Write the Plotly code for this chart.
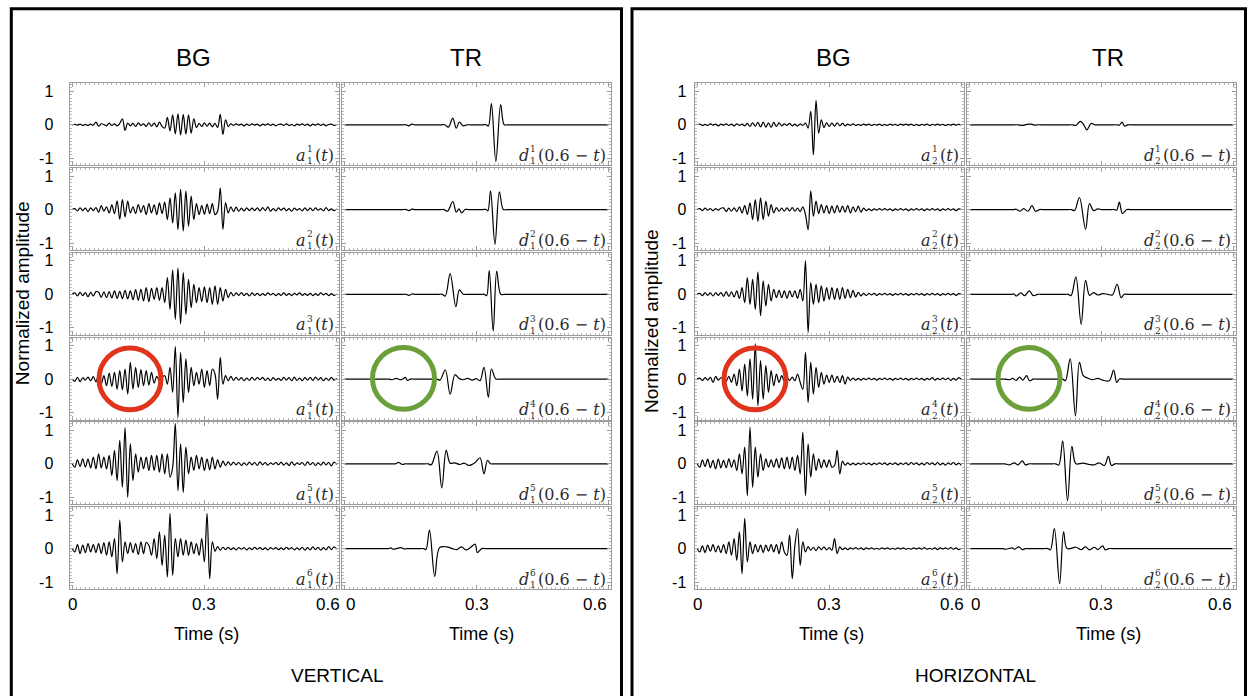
import plotly.graph_objects as go

W, H = 1249, 698
TIME_STEP = 0.006
TIME_TICKS = [0, 0.3, 0.6]
TIME_TICK_LABELS = ["0", "0.3", "0.6"]
AMP_TICKS = [-1, 0, 1]
AMP_TICK_LABELS = ["-1", "0", "1"]
COLUMN_TITLES = ["BG", "TR", "BG", "TR"]
PANEL_TITLES = ["VERTICAL", "HORIZONTAL"]

# ---- BG (background) records: amplitude samples every TIME_STEP seconds ----
a1_1 = [0, .01, -.01, .02, -.02, .01, -.02, .02, -.01, .08,
        -.04, .03, .01, -.03, .05, -.02, .03, -.03, .04, .18,
        -.17, .05, -.03, .04, -.05, .06, -.02, .03, -.05, .06,
        -.04, .05, -.06, .08, -.05, -.1, .22, -.18, .30, -.27,
        .33, -.30, .31, -.28, .30, -.25, .18, -.08, .04, -.05,
        .06, -.04, .05, -.06, .04, -.08, .31, -.29, .15, -.05,
        .03, -.02, .03, -.01, .02, -.03, .02, -.02, .03, -.01,
        .02, -.03, .02, -.01, .03, -.02, .02, -.03, .01, .02,
        -.02, .03, -.02, .01, -.03, .02, -.01, .03, -.02, .02,
        -.03, .02, -.01, .03, -.02, .02, -.03, .01, .02, -.02, .01]
a1_2 = [0, .03, -.04, .05, -.03, .04, -.06, .05, -.03, .06,
        -.08, .12, -.05, .08, -.1, .14, -.12, .26, -.29, .30,
        -.22, .25, -.1, .08, -.12, .15, -.08, .12, -.15, .18,
        -.1, .14, -.15, .2, -.12, .22, -.3, .35, -.4, .5,
        -.6, .6, -.64, .55, -.5, .4, -.3, .18, -.15, .12,
        -.14, .16, -.12, .18, -.15, -.05, .64, -.59, .2, -.1,
        .08, -.06, .07, -.05, .04, -.04, .05, -.03, .04, -.03,
        .05, -.04, .06, -.03, .08, -.05, .03, -.04, .05, -.02,
        .04, -.03, .03, -.05, .04, -.02, .03, -.04, .05, -.03,
        .04, -.03, .05, -.02, .03, -.04, .06, -.03, .02, -.03, .02]
a1_3 = [0, .04, -.05, .06, -.04, .05, -.07, .06, -.05, .08,
        .06, -.09, .07, -.1, .08, -.11, .1, -.12, .09, -.13,
        .12, -.14, .1, -.16, .14, -.18, .15, -.2, .2, -.22,
        .18, -.15, .2, -.18, .2, -.25, .5, -.45, .72, -.75,
        .79, -.89, .65, -.6, .45, -.4, .3, -.25, .2, -.22,
        .22, -.25, .2, -.3, .25, -.3, .2, -.2, .15, -.1,
        .06, -.05, .04, -.03, .05, -.04, .03, -.05, .04, -.03,
        .03, -.04, .02, -.03, .04, -.02, .03, -.04, .02, -.03,
        .04, -.03, .02, -.04, .03, -.02, .04, -.03, .02, -.03,
        .03, -.04, .02, -.03, .04, -.02, .03, -.04, .02, -.03, .01]
a1_4 = [0, -.06, .05, -.08, .04, -.03, .06, -.05, .07, -.08,
        .12, -.15, .1, -.2, .18, -.22, .2, -.3, .25, -.32,
        .3, -.45, .5, -.3, .35, -.25, .28, -.2, .25, -.18,
        .2, -.12, .08, -.06, .05, .1, -.15, .35, -.4, .97,
        -1.15, .8, -.7, .6, -.4, .35, -.2, .2, -.15, .3,
        -.25, .25, -.2, .3, .15, -.6, .65, -.15, .1, -.05,
        .08, -.04, .05, -.03, .04, -.05, .03, -.04, .05, -.03,
        .04, -.02, .05, -.04, .03, -.05, .04, -.03, .02, -.04,
        .05, -.03, .04, -.05, .06, -.04, .03, -.05, .04, -.03,
        .05, -.04, .06, -.03, .04, -.05, .03, -.04, .05, -.03, .02]
a1_5 = [0, -.1, .12, -.08, .15, -.1, .14, -.12, .2, -.15,
        .3, -.12, .2, -.15, .25, -.35, .4, -.5, .7, -.7,
        1.08, -1.0, .6, -.5, .3, -.25, .2, -.15, .2, -.2,
        .25, -.2, .25, -.25, .3, -.3, .3, -.4, -.1, 1.2,
        -.8, .6, -.85, .5, -.3, .2, -.2, .25, -.15, .2,
        -.2, .15, -.18, .2, -.15, .12, -.1, .08, -.05, .06,
        -.04, .05, -.03, .04, -.05, .03, -.04, .05, -.03, .04,
        -.05, .06, -.03, .04, -.04, .03, -.02, .04, -.03, .05,
        -.04, .03, -.05, .06, -.04, .03, -.02, .04, -.05, .06,
        -.03, .04, -.05, .03, -.04, .05, -.03, .04, -.06, .05, -.02]
a1_6 = [0, -.1, .12, -.15, .1, -.12, .15, -.1, .12, -.12,
        .15, -.15, .18, -.2, .2, -.25, .3, -.75, .85, -.4,
        .2, -.15, .18, -.12, .15, -.18, .2, -.15, .18, .1,
        -.2, .3, -.3, .5, -.5, .4, -.85, 1.05, -.8, .3,
        -.25, .3, -.2, .25, -.2, .2, -.15, .15, -.2, .3,
        -.4, 1.05, -.9, .2, -.08, .06, -.05, .04, -.03, .04,
        -.03, .02, -.04, .03, -.02, .03, -.04, .02, -.03, .04,
        -.02, .03, -.03, .02, -.04, .03, -.02, .03, -.03, .02,
        -.03, .04, -.02, .03, -.04, .02, -.03, .04, -.05, .03,
        -.04, .05, -.03, .04, -.05, .03, -.04, .06, -.03, .05, -.02]

a2_1 = [0, .02, -.02, .01, -.02, .03, -.01, .02, -.03, .02,
        -.01, .03, -.02, .02, -.03, .03, -.02, .02, -.03, .04,
        -.05, .06, -.04, .07, -.06, .08, -.07, .06, -.08, .07,
        -.05, .06, -.03, .03, -.02, .04, -.03, .02, -.04, .03,
        -.02, .05, -.1, .4, -.9, .73, -.25, .15, -.08, .06,
        -.05, .05, -.04, .06, -.03, .04, -.03, .02, -.02, .03,
        -.02, .01, -.02, .02, -.01, .02, -.02, .01, -.01, .02,
        -.02, .01, -.02, .02, -.01, .01, -.02, .02, -.01, .02,
        -.01, .02, -.02, .01, -.02, .01, -.01, .02, -.02, .01,
        -.01, .02, -.01, .01, -.02, .01, -.01, .02, -.01, .01, 0]
a2_2 = [0, .03, -.03, .04, -.02, .03, -.04, .03, -.02, .04,
        .05, -.06, .04, -.05, .05, -.06, .08, -.1, .12, -.15,
        .2, -.3, .3, -.35, .35, -.3, .25, -.2, .15, -.1,
        .06, -.05, .04, -.05, .05, -.04, .06, -.05, .04, -.06,
        .08, -.15, -.6, .56, -.2, .25, -.12, .15, -.1, .12,
        -.12, .1, -.1, .12, -.08, .1, -.08, .12, -.1, .08,
        -.06, .1, -.08, .04, -.03, .02, -.03, .02, -.02, .03,
        -.02, .03, -.02, .02, -.03, .02, -.02, .03, -.02, .02,
        -.03, .02, -.02, .03, -.02, .02, -.03, .02, -.02, .03,
        -.02, .02, -.03, .02, -.02, .03, -.02, .02, -.03, .02, 0]
a2_3 = [0, .03, -.04, .05, -.03, .04, -.05, .04, -.03, .05,
        -.06, .08, -.06, .07, -.08, .1, -.12, .2, -.25, .5,
        -.3, .45, -.45, .66, -.64, .4, -.35, .3, -.2, .15,
        -.1, .12, -.1, .1, -.12, .1, -.08, .1, -.12, .15,
        -.2, 1.0, -1.14, .35, -.3, .3, -.25, .25, -.2, .2,
        -.15, .2, -.15, .18, -.15, .2, -.12, .15, -.1, .12,
        -.08, .06, -.05, .03, -.04, .03, -.02, .03, -.03, .02,
        -.02, .03, -.02, .02, -.03, .02, -.02, .03, -.02, .02,
        -.03, .02, -.02, .03, -.02, .02, -.03, .02, -.02, .03,
        -.02, .02, -.03, .02, -.02, .03, -.02, .02, -.03, .02, 0]
a2_4 = [0, .03, -.04, .04, -.03, .05, -.1, .08, -.03, .04,
        .05, -.06, .08, -.1, .15, -.2, .3, -.35, .45, -.5,
        .6, -.6, 1.05, -.8, .55, -.6, .4, -.4, .25, -.2,
        .15, -.1, .1, -.06, .05, -.04, .06, -.05, .15, -.1,
        -.3, .8, -.7, .5, -.45, .35, -.25, .2, -.15, .12,
        -.1, .12, -.1, .08, -.1, .1, -.15, .06, -.04, .03,
        -.03, .02, -.03, .02, -.02, .03, -.02, .02, -.03, .02,
        -.02, .03, -.02, .02, -.03, .02, -.02, .03, -.02, .02,
        -.03, .02, -.02, .03, -.02, .02, -.03, .02, -.02, .04,
        -.03, .02, -.02, .03, -.02, .03, -.04, .02, -.03, .04, -.01]
a2_5 = [0, -.1, .12, -.08, .14, -.12, .1, -.15, .14, -.12,
        .1, -.12, .15, -.1, .12, -.2, .3, -.3, .5, -.95,
        1.1, -.7, .5, -.4, .3, -.2, .15, -.1, .12, -.1,
        .15, -.12, .18, -.15, .2, -.15, .2, -.2, .25, -.3,
        .95, -.95, .6, -.4, .3, -.2, .15, -.12, .12, -.1,
        .12, -.1, -.05, .4, -.3, .08, -.04, .03, -.03, .02,
        -.03, .02, -.02, .03, -.02, .02, -.03, .02, -.02, .03,
        -.02, .03, -.03, .02, -.02, .03, -.03, .02, -.02, .03,
        -.03, .04, -.02, .03, -.03, .02, -.03, .04, -.02, .03,
        -.03, .04, -.03, .02, -.04, .03, -.02, .04, -.03, .02, -.05]
a2_6 = [0, -.1, .08, -.12, .1, -.08, .12, -.1, .08, -.12,
        .12, -.15, .2, -.2, .3, -.35, .5, -.75, .9, -.4,
        .2, -.15, .12, -.1, .1, -.12, .1, -.08, .12, -.1,
        .12, -.15, .2, -.1, -.2, .4, -.9, .1, .6, -.5,
        .2, -.1, .06, -.05, .04, -.06, .05, -.03, .05, -.04,
        .03, -.05, .3, -.15, .05, -.03, .02, -.03, .02, -.02,
        .03, -.02, .02, -.03, .02, -.01, .02, -.02, .01, -.02,
        .02, -.01, .02, -.02, .01, -.02, .02, -.01, .02, -.02,
        .01, -.02, .02, -.01, .02, -.02, .03, -.02, .01, -.02,
        .02, -.03, .02, -.01, .02, -.02, .03, -.02, .02, -.03, .01]

# ---- TR (time-reversed) records: (time s, amplitude) key points ----
d1_1 = [(0, 0), (0.132, 0), (0.14, 0), (0.146, -0.03), (0.153, 0.02), (0.16, 0), (0.168, 0),
        (0.22, 0), (0.228, 0), (0.236, -0.07), (0.246, 0.2), (0.254, -0.1), (0.261, 0.08),
        (0.27, -0.03), (0.278, 0), (0.286, 0), (0.314, 0), (0.322, 0), (0.327, -0.04),
        (0.334, 0.63), (0.344, -1.1), (0.355, 0.6), (0.363, 0), (0.371, 0), (0.6, 0)]
d1_2 = [(0, 0), (0.132, 0), (0.14, 0), (0.146, -0.03), (0.153, 0.01), (0.16, 0), (0.168, 0),
        (0.218, 0), (0.226, 0), (0.234, -0.05), (0.246, 0.24), (0.254, -0.08), (0.26, 0.02),
        (0.266, -0.1), (0.274, 0), (0.282, 0), (0.314, 0), (0.322, 0), (0.326, -0.04),
        (0.332, 0.56), (0.342, -1.04), (0.352, 0.53), (0.361, 0), (0.369, 0), (0.6, 0)]
d1_3 = [(0, 0), (0.132, 0), (0.14, 0), (0.146, -0.03), (0.153, 0.01), (0.16, 0), (0.168, 0),
        (0.214, 0), (0.222, 0), (0.229, -0.05), (0.240, 0.62), (0.253, -0.37), (0.261, 0.13),
        (0.27, 0), (0.278, 0), (0.31, 0), (0.318, 0), (0.323, -0.04), (0.329, 0.71),
        (0.338, -1.1), (0.346, 0.69), (0.355, 0), (0.363, 0), (0.6, 0)]
d1_4 = [(0, 0), (0.092, 0), (0.1, 0), (0.108, -0.02), (0.118, 0.02), (0.126, -0.02), (0.133, 0.01),
        (0.138, 0.05), (0.143, -0.04), (0.15, 0), (0.158, 0), (0.202, 0), (0.21, 0), (0.217, -0.03),
        (0.229, 0.27), (0.240, -0.45), (0.251, 0.13), (0.26, 0.02), (0.27, -0.02), (0.28, 0.02),
        (0.29, -0.03), (0.3, 0.01), (0.308, -0.05), (0.317, 0.35), (0.327, -0.55), (0.334, 0.3),
        (0.344, 0), (0.352, 0), (0.6, 0)]
d1_5 = [(0, 0), (0.107, 0), (0.115, 0), (0.123, 0.04), (0.131, -0.02), (0.138, 0), (0.146, 0),
        (0.182, 0), (0.19, 0), (0.197, -0.03), (0.21, 0.38), (0.221, -0.72), (0.231, 0.4),
        (0.24, 0.02), (0.25, 0.03), (0.262, -0.02), (0.272, 0.02), (0.282, -0.05), (0.29, -0.02),
        (0.298, 0.05), (0.308, 0.18), (0.317, -0.3), (0.325, 0.1), (0.332, 0), (0.34, 0), (0.6, 0)]
d1_6 = [(0, 0), (0.092, 0), (0.1, 0), (0.105, 0.02), (0.11, -0.02), (0.118, 0), (0.128, 0.03),
        (0.135, -0.01), (0.142, 0), (0.15, 0), (0.172, 0), (0.18, 0), (0.185, -0.03), (0.193, 0.55),
        (0.205, -0.83), (0.216, 0.03), (0.232, 0.05), (0.245, 0), (0.255, -0.03), (0.266, 0.05),
        (0.276, -0.04), (0.287, 0.04), (0.297, 0.13), (0.302, -0.12), (0.312, 0), (0.32, 0), (0.6, 0)]

d2_1 = [(0, 0), (0.102, 0), (0.11, 0), (0.121, -0.02), (0.13, 0.01), (0.14, 0.02), (0.148, -0.01),
        (0.155, 0), (0.163, 0), (0.227, 0), (0.235, 0), (0.242, -0.02), (0.252, 0.1), (0.259, 0.02),
        (0.267, -0.15), (0.277, 0.04), (0.285, 0), (0.293, 0), (0.327, 0), (0.335, 0),
        (0.341, -0.01), (0.347, 0.08), (0.353, -0.04), (0.36, 0), (0.368, 0), (0.6, 0)]
d2_2 = [(0, 0), (0.092, 0), (0.1, 0), (0.106, 0.01), (0.115, -0.05), (0.123, 0.03), (0.133, -0.05),
        (0.142, 0.12), (0.15, -0.05), (0.159, 0), (0.167, 0), (0.224, 0), (0.232, 0), (0.239, -0.03),
        (0.25, 0.36), (0.264, -0.59), (0.273, 0.18), (0.282, -0.03), (0.292, 0.02), (0.3, 0),
        (0.308, 0), (0.322, 0), (0.33, 0), (0.335, -0.02), (0.341, 0.22), (0.348, -0.12),
        (0.358, 0), (0.366, 0), (0.6, 0)]
d2_3 = [(0, 0), (0.087, 0), (0.095, 0), (0.101, 0.01), (0.106, -0.05), (0.117, 0.04), (0.125, -0.04),
        (0.136, 0.1), (0.145, -0.04), (0.155, 0), (0.163, 0), (0.217, 0), (0.225, 0), (0.231, -0.04),
        (0.242, 0.52), (0.254, -0.89), (0.264, 0.42), (0.273, -0.03), (0.282, 0.05), (0.292, -0.02),
        (0.303, 0.02), (0.315, 0), (0.325, -0.02), (0.336, 0.3), (0.345, -0.1), (0.352, 0),
        (0.36, 0), (0.6, 0)]
d2_4 = [(0, 0), (0.072, 0), (0.08, 0), (0.091, -0.02), (0.098, 0.02), (0.106, -0.04), (0.114, 0.06),
        (0.121, -0.03), (0.13, 0.1), (0.136, -0.05), (0.145, 0), (0.153, 0), (0.204, 0), (0.212, 0),
        (0.218, -0.05), (0.229, 0.6), (0.241, -1.1), (0.25, 0.5), (0.259, 0.1), (0.269, 0.03),
        (0.28, -0.02), (0.292, 0.02), (0.303, -0.03), (0.318, -0.05), (0.328, 0.27), (0.335, -0.1),
        (0.341, 0), (0.349, 0), (0.6, 0)]
d2_5 = [(0, 0), (0.072, 0), (0.08, 0), (0.091, -0.03), (0.102, 0.03), (0.11, -0.03), (0.12, 0.09),
        (0.127, -0.03), (0.135, 0), (0.143, 0), (0.188, 0), (0.196, 0), (0.203, -0.04), (0.212, 0.68),
        (0.223, -1.1), (0.233, 0.52), (0.242, 0), (0.258, 0.02), (0.273, -0.02), (0.284, -0.03),
        (0.295, 0.03), (0.307, -0.05), (0.316, 0.22), (0.323, -0.05), (0.331, 0), (0.339, 0), (0.6, 0)]
d2_6 = [(0, 0), (0.067, 0), (0.075, 0), (0.083, -0.02), (0.097, 0.02), (0.102, -0.02), (0.112, 0.05),
        (0.12, -0.03), (0.127, 0), (0.135, 0), (0.17, 0), (0.178, 0), (0.184, -0.04), (0.193, 0.6),
        (0.205, -1.05), (0.214, 0.5), (0.222, 0), (0.242, 0.04), (0.254, -0.03), (0.264, 0.05),
        (0.273, -0.04), (0.284, 0.04), (0.292, -0.03), (0.303, 0.08), (0.309, -0.04), (0.317, 0),
        (0.325, 0), (0.6, 0)]

BG_VERTICAL = [a1_1, a1_2, a1_3, a1_4, a1_5, a1_6]
TR_VERTICAL = [d1_1, d1_2, d1_3, d1_4, d1_5, d1_6]
BG_HORIZONTAL = [a2_1, a2_2, a2_3, a2_4, a2_5, a2_6]
TR_HORIZONTAL = [d2_1, d2_2, d2_3, d2_4, d2_5, d2_6]

# ---------------- layout geometry (pixels) ----------------
COL_PX = [(69.5, 339.3), (342.0, 611.0), (694.5, 964.0), (967.0, 1235.7)]
ROW_TOP, ROW_PITCH, ROW_H = 83.5, 85.0, 82.3
X_RANGE = [-0.006, 0.606]
Y_RANGE = [-1.21, 1.24]


def px_x(p):
    return p / W


def px_y(p):
    return 1 - p / H


SANS = "Liberation Sans, Arial, sans-serif"
SERIF = "DejaVu Serif, serif"
FRAME = "#9c9c9c"
LABEL_COLOR = "#2b2b2b"

fig = go.Figure()
layout = {}
annotations = []

columns = [(BG_VERTICAL, "bg", 1), (TR_VERTICAL, "tr", 1),
           (BG_HORIZONTAL, "bg", 2), (TR_HORIZONTAL, "tr", 2)]

for c, (records, kind, comp) in enumerate(columns):
    for r in range(6):
        n = r * 4 + c + 1
        xa = "x" if n == 1 else f"x{n}"
        ya = "y" if n == 1 else f"y{n}"
        rec = records[r]
        if kind == "bg":
            xs = [i * TIME_STEP for i in range(len(rec))]
            ys = list(rec)
        else:
            xs = [p[0] for p in rec]
            ys = [p[1] for p in rec]
        fig.add_trace(go.Scatter(x=xs, y=ys, xaxis=xa, yaxis=ya, mode="lines",
                                 line=dict(color="black", width=1.2, shape="spline", smoothing=1.0),
                                 hoverinfo="skip", showlegend=False))

        top = ROW_TOP + r * ROW_PITCH
        bot = top + ROW_H
        x0, x1 = COL_PX[c]
        layout["xaxis" if n == 1 else f"xaxis{n}"] = dict(
            domain=[px_x(x0), px_x(x1)], range=X_RANGE, anchor=ya,
            showline=True, linecolor=FRAME, linewidth=1, mirror="allticks",
            ticks="inside", ticklen=4, tickwidth=1, tickcolor=FRAME,
            tickvals=TIME_TICKS, showticklabels=False,
            minor=dict(ticks="inside", ticklen=2, dtick=0.01, tickcolor="#b8b8b8", showgrid=False),
            showgrid=False, zeroline=False, fixedrange=True)
        layout["yaxis" if n == 1 else f"yaxis{n}"] = dict(
            domain=[px_y(bot), px_y(top)], range=Y_RANGE, anchor=xa,
            showline=True, linecolor=FRAME, linewidth=1, mirror="allticks",
            ticks="inside", ticklen=4, tickwidth=1, tickcolor=FRAME,
            tickvals=AMP_TICKS, ticktext=AMP_TICK_LABELS, showticklabels=(c in (0, 2)),
            ticklabelstandoff=(12 if c == 0 else 4),
            tickfont=dict(family=SANS, size=16, color="black"),
            minor=dict(ticks="inside", ticklen=2, dtick=0.1, tickcolor="#b8b8b8", showgrid=False),
            showgrid=False, zeroline=False, fixedrange=True)

        # time tick labels on the bottom row, placed on the axis scale
        if r == 5:
            if kind == "bg":
                anchors, shifts = ["center", "center", "right"], [0, 0, 4]
            else:
                anchors, shifts = ["left", "center", "right"], [0, 0, 0]
            for tv, tl, xanc, xs_ in zip(TIME_TICKS, TIME_TICK_LABELS, anchors, shifts):
                annotations.append(dict(xref=xa, yref="paper", x=tv, y=px_y(606), text=tl,
                                        showarrow=False, xanchor=xanc, yanchor="middle",
                                        xshift=xs_, borderpad=0,
                                        font=dict(family=SANS, size=17, color="black")))

        # math label, e.g. a_1^1(t) / d_1^1(0.6 - t): letter, stacked scripts, argument
        right = x1 - 5
        yc = px_y(bot - 10)
        if kind == "bg":
            letter, paren, wparen = "a", "(<i>t</i>)", 21
        else:
            letter, paren, wparen = "d", "(0.6 \u2212 <i>t</i>)", 70
        base = dict(xref="paper", yref="paper", y=yc, xanchor="right", yanchor="middle",
                    showarrow=False, borderpad=0, borderwidth=0)
        annotations.append(dict(base, x=px_x(right), text=paren,
                                font=dict(family=SERIF, size=16, color=LABEL_COLOR)))
        annotations.append(dict(base, x=px_x(right - wparen), text=f"{r + 1}<br>{comp}",
                                font=dict(family=SERIF, size=9, color=LABEL_COLOR)))
        annotations.append(dict(base, x=px_x(right - wparen - 7), text=f"<i>{letter}</i>",
                                font=dict(family=SERIF, size=16, color=LABEL_COLOR)))

# column titles
for txt, xp in zip(COLUMN_TITLES, [193, 466, 833, 1108]):
    annotations.append(dict(xref="paper", yref="paper", x=px_x(xp), y=px_y(58), text=txt,
                            showarrow=False, xanchor="center", yanchor="middle",
                            font=dict(family=SANS, size=24, color="black")))
# time axis titles
for xp in [206, 481, 831, 1108]:
    annotations.append(dict(xref="paper", yref="paper", x=px_x(xp), y=px_y(636), text="Time (s)",
                            showarrow=False, xanchor="center", yanchor="middle",
                            font=dict(family=SANS, size=18, color="black")))
# amplitude titles
for xp, yp in [(22, 294), (651, 322)]:
    annotations.append(dict(xref="paper", yref="paper", x=px_x(xp), y=px_y(yp),
                            text="Normalized amplitude", textangle=-90, showarrow=False,
                            xanchor="center", yanchor="middle",
                            font=dict(family=SANS, size=19, color="black")))
# panel titles
for txt, xp in zip(PANEL_TITLES, [337, 975]):
    annotations.append(dict(xref="paper", yref="paper", x=px_x(xp), y=px_y(677), text=txt,
                            showarrow=False, xanchor="center", yanchor="middle",
                            font=dict(family=SANS, size=19, color="black")))

shapes = []
# panel borders (open at the bottom edge of the picture)
for xl, xr in [(11.3, 621.5), (632.0, 1245.5)]:
    path = (f"M {px_x(xl)},0 L {px_x(xl)},{px_y(8.8)} "
            f"L {px_x(xr)},{px_y(8.8)} L {px_x(xr)},0")
    shapes.append(dict(type="path", xref="paper", yref="paper", path=path,
                       line=dict(color="black", width=3), layer="above"))
# highlight circles
for cx, cy, col in [(130, 380, "#e0351c"), (403.5, 379.5, "#6b9f3a"),
                    (755, 380, "#e0351c"), (1029, 379.5, "#6b9f3a")]:
    rr = 31
    shapes.append(dict(type="circle", xref="paper", yref="paper",
                       x0=px_x(cx - rr), x1=px_x(cx + rr), y0=px_y(cy + rr), y1=px_y(cy - rr),
                       line=dict(color=col, width=5), layer="above"))

fig.update_layout(width=W, height=H, autosize=False,
                  margin=dict(l=0, r=0, t=0, b=0, pad=0),
                  paper_bgcolor="white", plot_bgcolor="white",
                  hovermode=False, showlegend=False,
                  annotations=annotations, shapes=shapes, **layout)

fig.write_html("out.html", config={"displayModeBar": False, "responsive": False},
               post_script="document.body.style.margin='0';"
                           "document.documentElement.style.overflow='hidden';")
